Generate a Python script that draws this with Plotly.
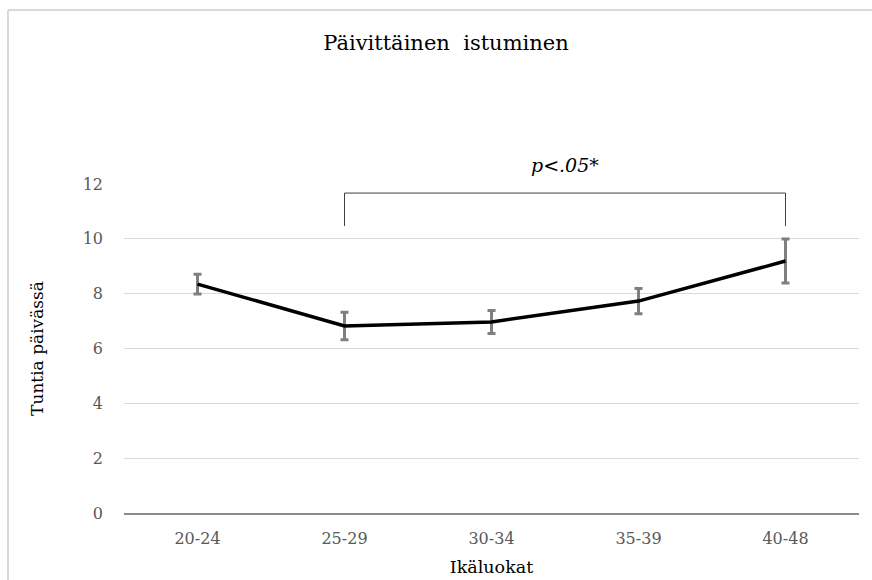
import plotly.graph_objects as go

categories = ["20-24", "25-29", "30-34", "35-39", "40-48"]
means = [8.35, 6.82, 6.97, 7.73, 9.19]
errors = [0.36, 0.50, 0.42, 0.46, 0.80]
y_ticks = [0, 2, 4, 6, 8, 10, 12]

bracket_from = "25-29"
bracket_to = "40-48"
bracket_top = 11.67
bracket_bottom = 10.47
sig_label = "p<.05*"
sig_y = 12.7

title = "Päivittäinen  istuminen"
x_title = "Ikäluokat"
y_title = "Tuntia päivässä"

FONT = "DejaVu Serif"
W, H = 872, 580
ML, MR, MT, MB = 124, W - 859, 184, H - 513

fig = go.Figure()

fig.add_trace(go.Scatter(
    x=categories, y=means,
    mode="lines",
    line=dict(color="black", width=3.5),
    error_y=dict(type="data", array=errors, visible=True,
                 color="#7f7f7f", thickness=3, width=4),
    showlegend=False, hoverinfo="skip",
))

fig.add_trace(go.Scatter(
    x=[bracket_from, bracket_from, bracket_to, bracket_to],
    y=[bracket_bottom, bracket_top, bracket_top, bracket_bottom],
    mode="lines",
    line=dict(color="#404040", width=1),
    showlegend=False, hoverinfo="skip",
))

fig.add_annotation(
    x=2.5, y=sig_y / 12, xref="x", yref="paper", yanchor="middle",
    text="<i>" + sig_label.replace("<", "&lt;") + "</i>",
    showarrow=False,
    font=dict(family=FONT, size=19, color="black"),
)

pw = W - ML - MR
ph = H - MT - MB
bx = (8 - ML) / pw
by = (H - MB - 10) / ph
fig.add_shape(type="line", xref="paper", yref="paper",
              x0=bx, x1=bx, y0=-1, y1=by,
              line=dict(color="#d9d9d9", width=2))
fig.add_shape(type="line", xref="paper", yref="paper",
              x0=bx, x1=2, y0=by, y1=by,
              line=dict(color="#d9d9d9", width=2))

fig.update_layout(
    width=W, height=H,
    margin=dict(l=ML, r=MR, t=MT, b=MB, autoexpand=False),
    paper_bgcolor="white", plot_bgcolor="white",
    font=dict(family=FONT, color="#595959"),
    title=dict(text=title, x=446 / W, xanchor="center",
               y=1 - 43 / H, yanchor="middle", xref="container", yref="container",
               font=dict(family=FONT, size=21, color="black")),
    xaxis=dict(
        type="category", categoryorder="array", categoryarray=categories,
        range=[-0.5, len(categories) - 0.5],
        showgrid=False, zeroline=False, automargin=False,
        showline=True, linecolor="#8c8c8c", linewidth=1.5,
        ticks="", tickfont=dict(family=FONT, size=16, color="#595959"),
        ticklabelstandoff=10,
        title=dict(text=x_title, font=dict(family=FONT, size=17.5, color="black"), standoff=14),
    ),
    yaxis=dict(
        range=[0, 12], tickvals=y_ticks, automargin=False,
        showgrid=True, gridcolor="#d9d9d9", gridwidth=1,
        zeroline=False, showline=False, ticks="",
        tickfont=dict(family=FONT, size=16, color="#595959"),
        ticklabelstandoff=20,
        title=dict(text=y_title, font=dict(family=FONT, size=17, color="black"), standoff=34),
    ),
)

fig.write_html(
    "out.html",
    config={"displayModeBar": False},
    post_script="document.body.style.margin='0';document.body.style.overflow='hidden';",
)
